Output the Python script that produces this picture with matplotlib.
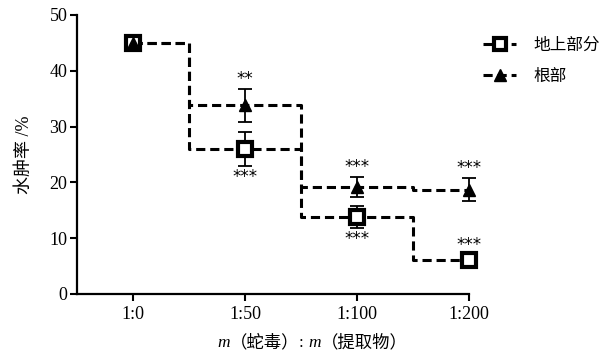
import matplotlib
matplotlib.use("Agg")
import matplotlib.pyplot as plt
import numpy as np
from matplotlib.lines import Line2D
from matplotlib.offsetbox import TextArea, HPacker, AnchoredOffsetbox

plt.rcParams['font.family'] = ['Liberation Serif', 'Noto Sans CJK SC']

categories = ['1:0', '1:50', '1:100', '1:200']
shoot_vals = [45, 26, 13.8, 6.1]
shoot_err = [0, 3.0, 1.9, 0.4]
root_vals = [45, 33.8, 19.1, 18.7]
root_err = [0, 2.9, 1.8, 2.0]
shoot_sig = ['', '***', '***', '***']
root_sig = ['', '**', '***', '***']
series_names = ['地上部分', '根部']

fig = plt.figure(figsize=(6.08, 3.57), dpi=100)
ax = fig.add_axes([0.1266, 0.1765, 0.6448, 0.7815])
x = np.arange(len(categories))

ls = (0, (3, 1.6))
ax.plot(x, shoot_vals, drawstyle='steps-mid', color='black', ls=ls, lw=2.2, zorder=2, clip_on=False)
ax.plot(x, root_vals, drawstyle='steps-mid', color='black', ls=ls, lw=2.2, zorder=2, clip_on=False)
for vals, err in [(shoot_vals, shoot_err), (root_vals, root_err)]:
    eb = ax.errorbar(x, vals, yerr=err, fmt='none', ecolor='black', elinewidth=1.3, capsize=5, capthick=1.3, zorder=3)
    for art in list(eb.lines[1]) + list(eb.lines[2]):
        art.set_clip_on(False)
ax.plot(x, shoot_vals, ls='none', marker='s', ms=10, mfc='white', mec='black', mew=3, zorder=4, clip_on=False)
ax.plot(x, root_vals, ls='none', marker='^', ms=9, mfc='black', mec='black', zorder=5, clip_on=False)

# significance marks
for i in range(len(categories)):
    if root_sig[i]:
        ax.text(x[i], root_vals[i] + root_err[i] + 0.3, root_sig[i], ha='center', va='bottom', fontsize=12, family='DejaVu Sans')
    if shoot_sig[i]:
        if i == 3:
            ax.text(x[i], shoot_vals[i] + 1.0, shoot_sig[i], ha='center', va='bottom', fontsize=12, family='DejaVu Sans')
        else:
            ax.text(x[i], shoot_vals[i] - shoot_err[i] - 0.5, shoot_sig[i], ha='center', va='top', fontsize=12, family='DejaVu Sans')

ax.set_xlim(-0.5, 3.0)
ax.set_ylim(0, 50)
ax.set_xticks(x)
ax.set_xticklabels(categories, fontsize=13)
ax.set_yticks([0, 10, 20, 30, 40, 50])
ax.tick_params(axis='y', labelsize=13, length=5, width=1.5, pad=2)
ax.tick_params(axis='x', length=5, width=1.5, pad=4)
for s in ['top', 'right']:
    ax.spines[s].set_visible(False)
for s in ['left', 'bottom']:
    ax.spines[s].set_linewidth(1.6)

ax.set_ylabel('水肿率 /%', fontsize=13, labelpad=12)

# x label with italic m
parts = [('m', 'italic'), ('（蛇毒）', 'normal'), (': ', 'normal'), ('m', 'italic'), ('（提取物）', 'normal')]
areas = [TextArea(t, textprops=dict(fontsize=12.5, style=st, family=['Liberation Serif', 'Noto Sans CJK SC'])) for t, st in parts]
box = HPacker(children=areas, align='baseline', pad=0, sep=0)
ab = AnchoredOffsetbox(loc='center', child=box, pad=0, frameon=False,
                       bbox_to_anchor=(0.6, -0.175), bbox_transform=ax.transAxes, borderpad=0)
ax.add_artist(ab)

h1 = Line2D([], [], color='black', ls=ls, lw=2.2, marker='s', ms=9, mfc='white', mec='black', mew=3)
h2 = Line2D([], [], color='black', ls=ls, lw=2.2, marker='^', ms=9, mfc='black', mec='black')
fig.legend([h1, h2], series_names, loc='upper left', bbox_to_anchor=(0.77, 0.935), frameon=False,
           fontsize=12, handlelength=2.0, labelspacing=0.9, handletextpad=1.0)

fig.savefig('out.png', dpi=100, facecolor='white')
